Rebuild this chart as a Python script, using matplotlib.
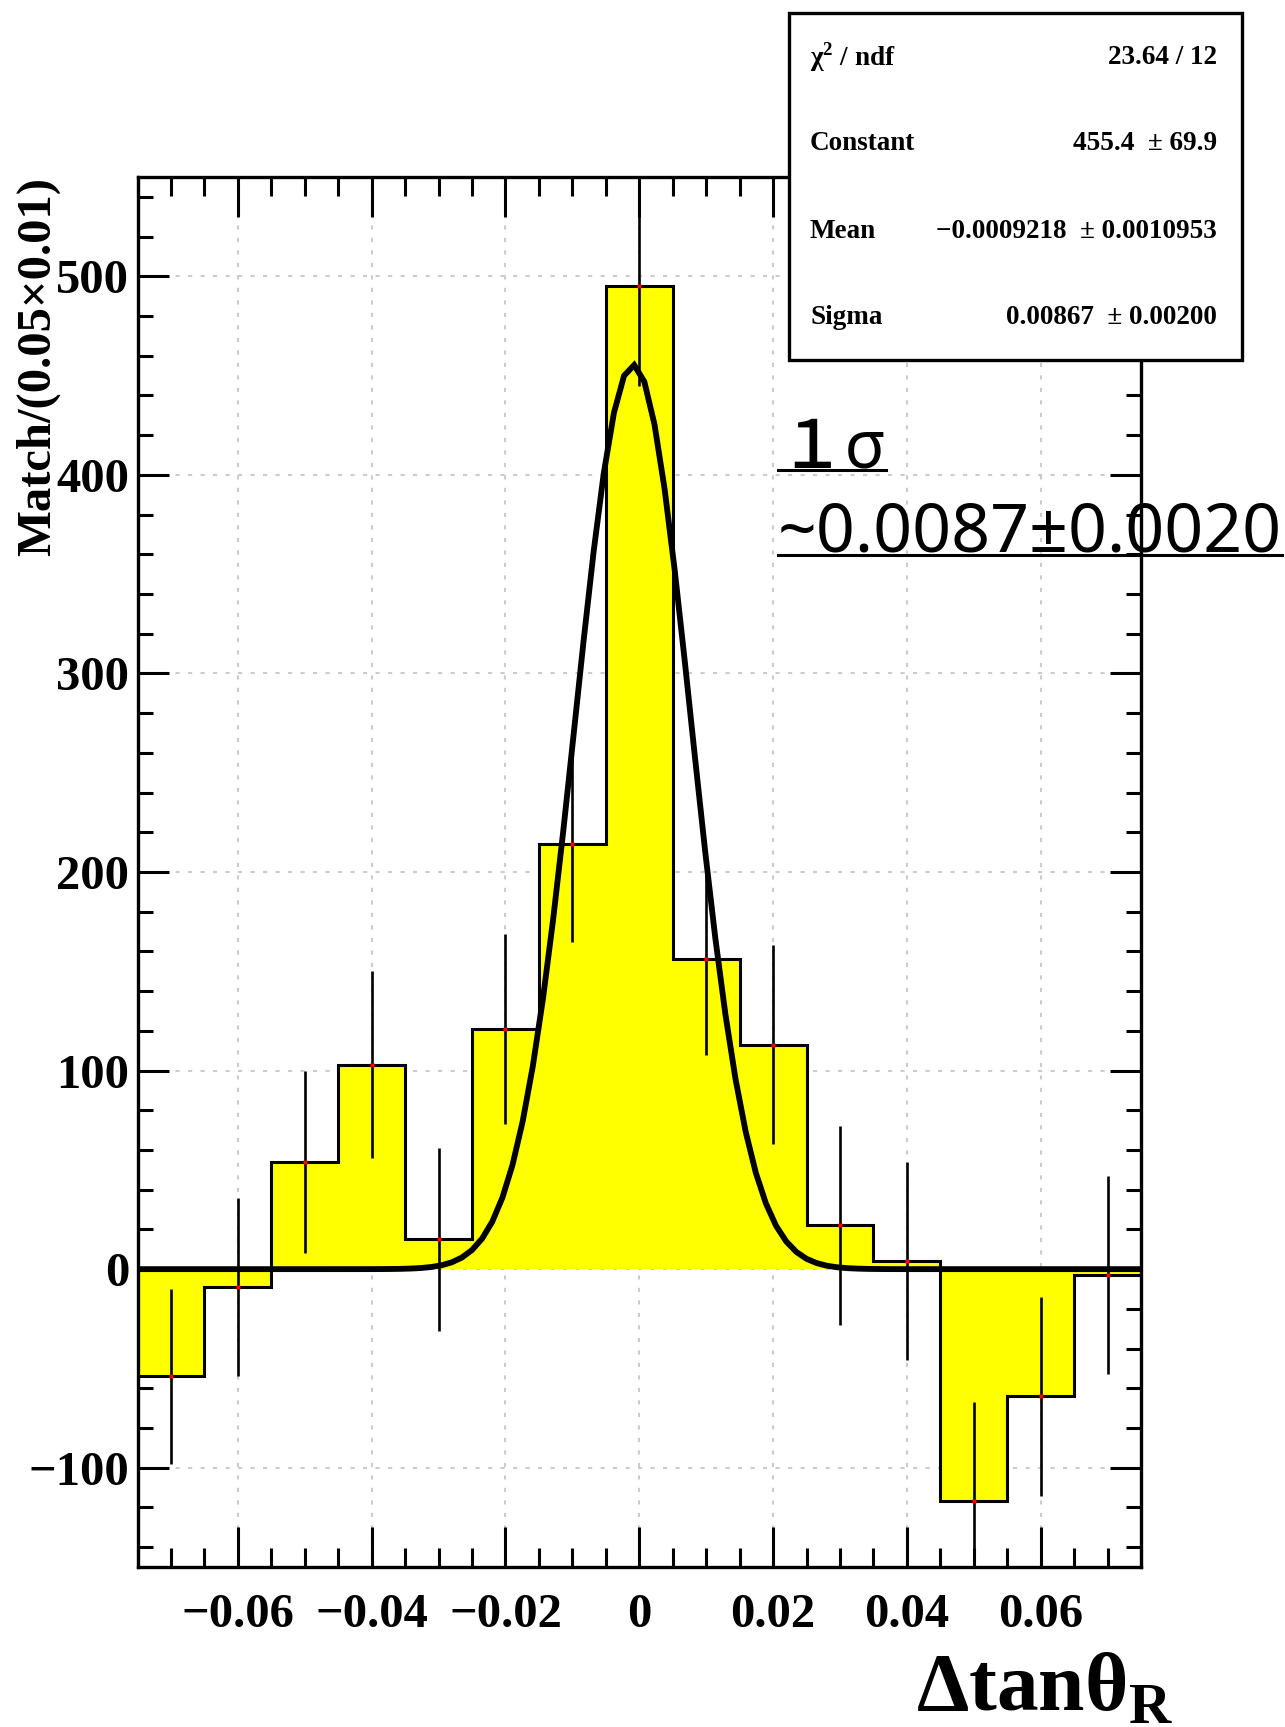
import numpy as np
import matplotlib
matplotlib.use("Agg")
import matplotlib.pyplot as plt
from matplotlib.patches import Rectangle
from matplotlib.lines import Line2D
from matplotlib.ticker import MultipleLocator

# histogram of delta tan(theta_R), background subtracted
bin_lo = -0.075
bin_width = 0.01
counts = [-54, -9, 54, 103, 15, 121, 214, 495, 156, 113, 22, 4, -117, -64, -3]
errors = [44, 45, 46, 47, 46, 48, 49, 50, 48, 50, 50, 50, 50, 50, 50]

# gaussian fit result
fit_const = 455.4
fit_mean = -0.0009218
fit_sigma = 0.00867
stat_names = ["χ$^{\\mathbf{2}}$ / ndf", "Constant", "Mean", "Sigma"]
stat_values = ["23.64 / 12", "455.4  ± 69.9", "−0.0009218  ± 0.0010953", "0.00867  ± 0.00200"]
note_lines = ["１σ", "~0.0087±0.0020"]

plt.rcParams['font.family'] = 'Liberation Serif'
plt.rcParams['font.weight'] = 'bold'
plt.rcParams['mathtext.fontset'] = 'custom'
plt.rcParams['mathtext.rm'] = 'Liberation Serif:bold'
plt.rcParams['mathtext.bf'] = 'Liberation Serif:bold'

W, H = 1285, 1727
fig = plt.figure(figsize=(W / 100, H / 100), dpi=100)

def fx(px):
    return px / W

def fy(py):
    return 1 - py / H

ax = fig.add_axes([fx(137.5), fy(1567), fx(1141) - fx(137.5), fy(177) - fy(1567)])

edges = bin_lo + bin_width * np.arange(len(counts) + 1)
centers = 0.5 * (edges[:-1] + edges[1:])

ax.stairs(counts, edges, baseline=0, fill=True, color='#ffff00', zorder=2)
ax.stairs(counts, edges, baseline=None, color='black', lw=2.2, zorder=3)
ax.errorbar(centers, counts, yerr=errors, fmt='none', ecolor='black',
            elinewidth=1.9, capsize=0, zorder=4)
ax.plot(centers, counts, 's', color='red', ms=2.5, mec='none', zorder=5)

xf = np.linspace(bin_lo, edges[-1], 100)
yf = fit_const * np.exp(-0.5 * ((xf - fit_mean) / fit_sigma) ** 2)
ax.plot(xf, yf, color='black', lw=4.2, zorder=6, solid_joinstyle='miter')

ax.set_xlim(-0.075, 0.075)
ax.set_ylim(-150, 550)
ax.xaxis.set_major_locator(MultipleLocator(0.02))
ax.xaxis.set_minor_locator(MultipleLocator(0.005))
ax.yaxis.set_major_locator(MultipleLocator(100))
ax.yaxis.set_minor_locator(MultipleLocator(20))
ax.set_xticks([-0.06, -0.04, -0.02, 0, 0.02, 0.04, 0.06])
ax.set_xticklabels(["−0.06", "−0.04", "−0.02", "0", "0.02", "0.04", "0.06"])
ax.grid(True, which='major', color='#cccccc', linestyle=(0, (2, 4)), lw=1.5, zorder=1)
ax.set_axisbelow(True)

ax.tick_params(which='both', direction='in', top=True, right=True, width=2.2, labelsize=35)
ax.tick_params(axis='x', which='major', length=29, pad=19)
ax.tick_params(axis='x', which='minor', length=14)
ax.tick_params(axis='y', which='major', length=22, pad=6)
ax.tick_params(axis='y', which='minor', length=11)
for s in ax.spines.values():
    s.set_linewidth(2.4)

ax.text(-0.099, 1.0, "Match/(0.05×0.01)", transform=ax.transAxes, rotation=90,
        ha='center', va='top', fontsize=35, fontweight='bold')
fig.text(fx(1173), fy(1710), "Δtanθ$_{\\mathbf{R}}$", ha='right', va='baseline',
         fontsize=60, fontweight='bold')

# stats box
box = Rectangle((fx(789), fy(360)), fx(1242) - fx(789), fy(13) - fy(360),
                transform=fig.transFigure, facecolor='white', edgecolor='black',
                lw=2.4, zorder=10)
fig.add_artist(box)
row_y = [57, 143, 232, 318]
for name, val, ry in zip(stat_names, stat_values, row_y):
    fig.text(fx(810), fy(ry), name, ha='left', va='center', fontsize=19.5,
             fontweight='bold', zorder=11)
    fig.text(fx(1217), fy(ry), val, ha='right', va='center', fontsize=19.5,
             fontweight='bold', zorder=11)

# note with underlines
note_base = [467, 552]
note_size = [48, 49]
note_texts = []
for s, by, fs in zip(note_lines, note_base, note_size):
    t = fig.text(fx(778), fy(by), s, ha='left', va='baseline', fontsize=fs,
                 family=['Noto Sans', 'Noto Sans CJK JP'], fontweight='medium', zorder=11)
    note_texts.append(t)

fig.canvas.draw()
r = fig.canvas.get_renderer()
for t, by in zip(note_texts, note_base):
    bb = t.get_window_extent(r)
    yline = fy(by + 3)
    fig.add_artist(Line2D([bb.x0 / W, bb.x1 / W], [yline, yline],
                          transform=fig.transFigure, color='black', lw=2.2, zorder=11))

fig.savefig("out.png", dpi=100)
